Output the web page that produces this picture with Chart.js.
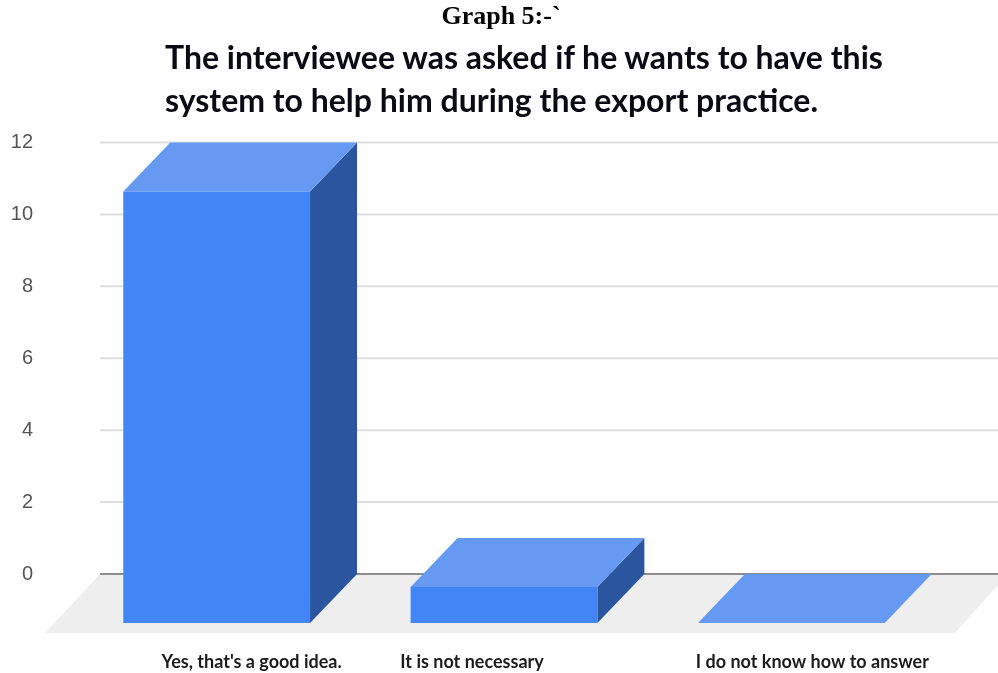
<!DOCTYPE html>
<html>
<head>
<meta charset="utf-8">
<style>
  html, body { margin: 0; background: #fff; }
  #page { position: relative; width: 998px; height: 673px; overflow: hidden; }
  #caption { position: absolute; left: 0; width: 1002px; top: 1px; text-align: center; font: bold 26px "Liberation Serif", serif; color: #000; }
  #heading { position: absolute; left: 165px; top: 35px; font: bold 32px/43px Lato, sans-serif; color: #0a0a14; white-space: nowrap; }
  canvas { position: absolute; left: 0; top: 0; }
</style>
</head>
<body>
<div id="page">
  <canvas id="graph" width="998" height="673"></canvas>
  <div id="caption">Graph 5:-`</div>
  <div id="heading">The interviewee was asked if he wants to have this<br>system to help him during the export practice.</div>
</div>
<script src="https://cdn.jsdelivr.net/npm/chart.js@4"></script>
<script>
const categories = ["Yes, that's a good idea.", 'It is not necessary', 'I do not know how to answer'];
const answers = [12, 1, 0];

// the 3d look: front faces are shifted down-left of the back plane
const depthX = 47;
const depthY = 49;
const labelShift = [-12, -79, -26];

const bars3d = {
  id: 'bars3d',
  beforeDatasetsDraw(chart) {
    const { ctx, scales: { y } } = chart;
    const zero = y.getPixelForValue(0);

    ctx.save();
    // floor
    ctx.fillStyle = '#eeeeee';
    ctx.beginPath();
    ctx.moveTo(100, zero);
    ctx.lineTo(1008, zero);
    ctx.lineTo(955, zero + 59);
    ctx.lineTo(45, zero + 59);
    ctx.closePath();
    ctx.fill();

    // grid lines
    y.ticks.forEach(t => {
      ctx.strokeStyle = t.value === 0 ? '#8c8c8c' : '#dedede';
      ctx.lineWidth = 2;
      ctx.beginPath();
      ctx.moveTo(100, y.getPixelForValue(t.value));
      ctx.lineTo(998, y.getPixelForValue(t.value));
      ctx.stroke();
    });

    // side and top faces
    chart.getDatasetMeta(0).data.forEach(bar => {
      const l = bar.x - bar.width / 2;
      const r = bar.x + bar.width / 2;
      ctx.fillStyle = '#2b569f';
      ctx.beginPath();
      ctx.moveTo(r, bar.y);
      ctx.lineTo(r, zero);
      ctx.lineTo(r - depthX, zero + depthY);
      ctx.lineTo(r - depthX, bar.y + depthY);
      ctx.closePath();
      ctx.fill();

      ctx.fillStyle = '#6599f2';
      ctx.beginPath();
      ctx.moveTo(l, bar.y);
      ctx.lineTo(r, bar.y);
      ctx.lineTo(r - depthX, bar.y + depthY);
      ctx.lineTo(l - depthX, bar.y + depthY);
      ctx.closePath();
      ctx.fill();
    });
    ctx.restore();

    // front faces are the real bars, drawn by the library
    ctx.save();
    ctx.translate(-depthX, depthY);
  },
  afterDatasetsDraw(chart) {
    const { ctx, scales: { x } } = chart;
    ctx.restore();

    ctx.save();
    ctx.font = 'bold 18px Lato, sans-serif';
    ctx.fillStyle = '#1c1c1c';
    ctx.textAlign = 'center';
    ctx.textBaseline = 'middle';
    categories.forEach((label, i) => {
      ctx.fillText(label, x.getPixelForValue(i) + labelShift[i], 662);
    });
    ctx.restore();
  }
};

new Chart(document.getElementById('graph').getContext('2d'), {
  type: 'bar',
  data: {
    labels: categories,
    datasets: [{
      label: 'Answers',
      data: answers,
      backgroundColor: '#4285f4',
      categoryPercentage: 0.65,
      barPercentage: 1,
      clip: false
    }]
  },
  plugins: [bars3d],
  options: {
    responsive: false,
    animation: false,
    layout: {
      padding: { top: 142.5, bottom: 97.5, right: 16 }
    },
    plugins: {
      legend: { display: false },
      title: { display: false },
      tooltip: { enabled: false }
    },
    scales: {
      x: {
        afterFit(scale) { scale.height = 0; },
        grid: { display: false, drawTicks: false },
        border: { display: false },
        ticks: { display: false }
      },
      y: {
        min: 0,
        max: 12,
        afterFit(scale) { scale.width = 120; },
        grid: { display: false, drawTicks: false },
        border: { display: false },
        ticks: {
          stepSize: 2,
          padding: 87,
          color: '#555555',
          font: { family: "'Liberation Sans', sans-serif", size: 20 }
        }
      }
    }
  }
});
</script>
</body>
</html>
